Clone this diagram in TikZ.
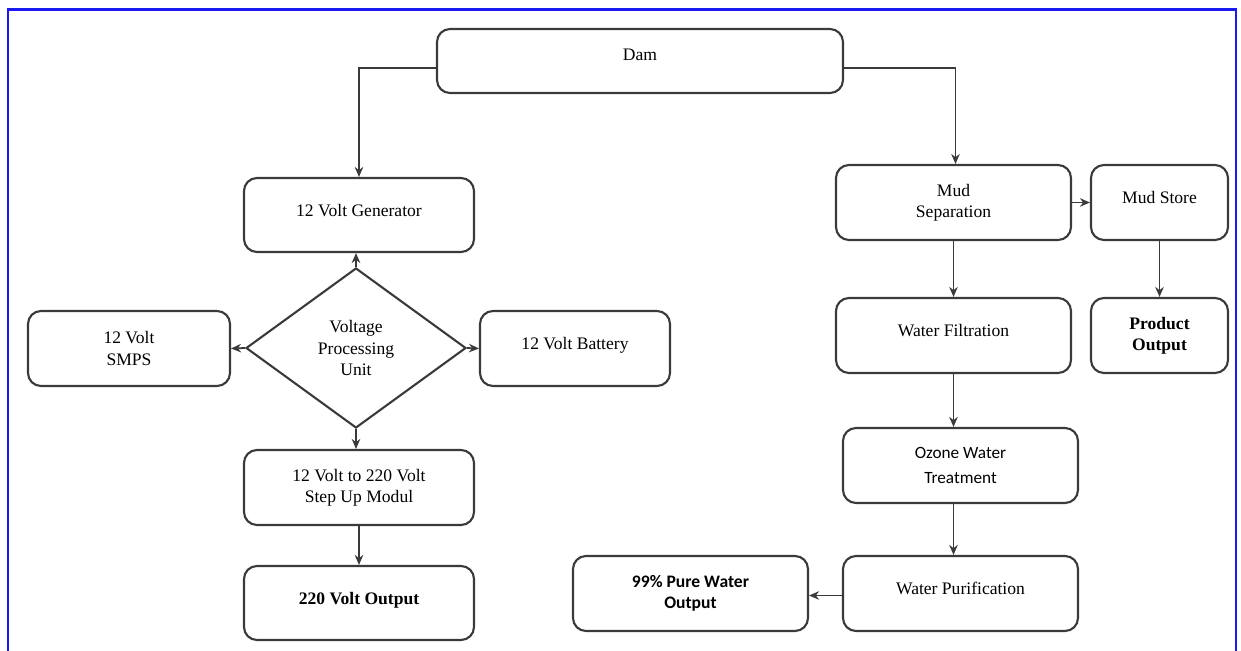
\documentclass[tikz,border=0pt]{standalone}
\usepackage{fontspec}
\setmainfont{Liberation Serif}
\newfontfamily\calib{Carlito}
\usetikzlibrary{shapes.geometric, arrows.meta, positioning, calc}
\definecolor{edge}{HTML}{3A3A3A}
\definecolor{frameblue}{HTML}{1A1AF0}

\begin{document}
\begin{tikzpicture}[
    every node/.style={font=\normalsize},
    blk/.style={draw=edge, line width=1.2pt, rounded corners=0.26cm, minimum height=1.5cm, align=center, inner sep=2pt},
    lift/.style={text depth=5.5pt},
    vpu/.style={draw=edge, line width=1.2pt, diamond, minimum width=4.4cm, minimum height=3.2cm, inner sep=0pt, align=center},
    arr/.style={-{Stealth[length=2mm, width=1.7mm]}, draw=edge, line width=1pt}
]
    \useasboundingbox (0,0) rectangle (24.82,-13.02);
    % blue frame, open at the bottom
    \draw[frameblue, line width=1.6pt] (0.16,-13.1) -- (0.16,-0.19) -- (24.72,-0.19) -- (24.72,-13.1);

    % source
    \node[blk, minimum width=8.12cm, minimum height=1.28cm, text depth=7pt] (dam) at (12.8,-1.22) {Dam};

    % left branch: power
    \node[blk, lift, minimum width=4.6cm, minimum height=1.48cm] (gen) at (7.18,-4.3) {12 Volt Generator};
    \node[vpu] (proc) at (7.12,-6.96) {Voltage\\Processing\\Unit};
    \node[blk, minimum width=4.04cm] (smps) at (2.58,-6.97) {12 Volt\\SMPS};
    \node[blk, lift, minimum width=3.8cm] (batt) at (11.5,-6.97) {12 Volt Battery};
    \node[blk, minimum width=4.6cm] (stepup) at (7.18,-9.75) {12 Volt to 220 Volt\\Step Up Modul};
    \node[blk, lift, minimum width=4.6cm, minimum height=1.48cm, font=\bfseries] (out220) at (7.18,-12.06) {220 Volt Output};

    % right branch: water
    \node[blk, minimum width=4.7cm] (mudsep) at (19.07,-4.05) {Mud\\Separation};
    \node[blk, lift, minimum width=2.74cm] (mudstore) at (23.19,-4.05) {Mud Store};
    \node[blk, lift, minimum width=4.7cm] (filt) at (19.07,-6.71) {Water Filtration};
    \node[blk, minimum width=2.74cm, font=\bfseries] (prodout) at (23.19,-6.71) {Product\\Output};
    \node[blk, minimum width=4.7cm, font=\calib\fontsize{9.8}{12}\selectfont] (ozone) at (19.21,-9.31) {Ozone Water\\[2pt]Treatment};
    \node[blk, lift, minimum width=4.7cm] (purif) at (19.21,-11.87) {Water Purification};
    \node[blk, minimum width=4.7cm, font=\calib\bfseries] (pure) at (13.81,-11.87) {99\% Pure Water\\Output};

    % connectors
    \draw[arr] ($(dam.west)+(0,-0.14)$) -| (gen.north);
    \draw[arr] ($(dam.east)+(0,-0.14)$) -| ($(mudsep.north)+(0.04,0)$);
    \draw[arr] (proc.north) -- (proc.north |- gen.south);
    \draw[arr] (proc.west) -- (smps.east);
    \draw[arr] (proc.east) -- (batt.west);
    \draw[arr] (proc.south) -- (proc.south |- stepup.north);
    \draw[arr] (stepup.south) -- (out220.north);
    \draw[arr] (mudsep.east) -- (mudstore.west);
    \draw[arr] (mudsep.south) -- (filt.north);
    \draw[arr] (mudstore.south) -- (prodout.north);
    \draw[arr] (filt.south) -- (filt.south |- ozone.north);
    \draw[arr] (filt.south |- ozone.south) -- (filt.south |- purif.north);
    \draw[arr] ($(purif.west)+(0,-0.04)$) -- ($(pure.east)+(0,-0.04)$);
\end{tikzpicture}
\end{document}
